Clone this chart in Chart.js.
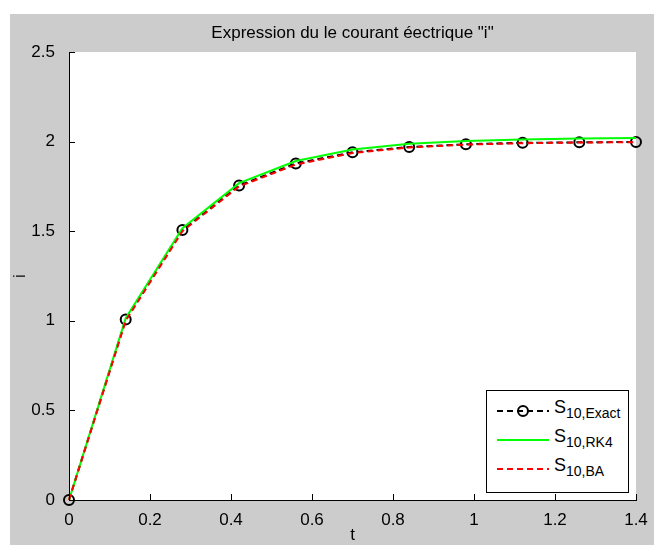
<!DOCTYPE html>
<html lang="fr">
<head>
  <meta charset="UTF-8">
  <title>Expression du courant</title>
  <script src="https://cdn.jsdelivr.net/npm/chart.js"></script>
  <style>
    body { margin: 0; background: #fff; font-family: "Liberation Sans", Arial, sans-serif; }
    #wrap { position: relative; width: 654px; height: 545px; }
    #legend { position: absolute; left: 486px; top: 390px; width: 141px; height: 101px;
              background: #fff; border: 1px solid #000; }
    .row { position: absolute; left: 0; height: 28px; width: 141px; }
    .row svg { position: absolute; left: 8px; top: 0; }
    .lbl { position: absolute; left: 67px; top: 0px; font-size: 18px; color: #000; white-space: nowrap; }
    .lbl sub { font-size: 14px; vertical-align: -5px; }
  </style>
</head>
<body>
  <div id="wrap">
    <canvas id="c" width="654" height="545"></canvas>
    <div id="legend">
      <div class="row" style="top:6px">
        <svg width="56" height="28"><line x1="2" y1="14" x2="54" y2="14" stroke="#000" stroke-width="2" stroke-dasharray="6,4"/><circle cx="28" cy="14" r="5" fill="none" stroke="#000" stroke-width="2"/></svg>
        <span class="lbl">S<sub>10,Exact</sub></span>
      </div>
      <div class="row" style="top:35px">
        <svg width="56" height="28"><line x1="2" y1="14" x2="54" y2="14" stroke="#00ff00" stroke-width="2"/></svg>
        <span class="lbl">S<sub>10,RK4</sub></span>
      </div>
      <div class="row" style="top:64px">
        <svg width="56" height="28"><line x1="2" y1="14" x2="54" y2="14" stroke="#ff0000" stroke-width="2" stroke-dasharray="6,4"/></svg>
        <span class="lbl">S<sub>10,BA</sub></span>
      </div>
    </div>
  </div>
  <script>
    // temps t et les trois solutions
    const temps = [0, 0.14, 0.28, 0.42, 0.56, 0.70, 0.84, 0.98, 1.12, 1.26, 1.40];
    const iExact = [0, 1.007, 1.507, 1.755, 1.878, 1.940, 1.970, 1.985, 1.993, 1.996, 1.998];
    const iRK4 = [0, 1.015, 1.517, 1.768, 1.892, 1.956, 1.988, 2.004, 2.012, 2.017, 2.020];
    const iBA = [0, 1.000, 1.500, 1.750, 1.872, 1.936, 1.967, 1.983, 1.991, 1.995, 1.997];
    const titre = 'Expression du le courant éectrique "i"';

    const police = "'Liberation Sans', Arial, sans-serif";

    function pts(ys) {
      return temps.map((t, k) => ({ x: t, y: ys[k] }));
    }

    // fond gris façon matlab + zone blanche + titre centré sur les axes
    const fond = {
      id: 'fond',
      beforeDraw(chart) {
        const ctx = chart.ctx, a = chart.chartArea;
        ctx.save();
        ctx.fillStyle = '#fff';
        ctx.fillRect(0, 0, chart.width, chart.height);
        ctx.fillStyle = '#cccccc';
        ctx.fillRect(10, 14, chart.width - 10, chart.height - 14);
        ctx.fillStyle = '#fff';
        ctx.fillRect(a.left, a.top, a.right - a.left, a.bottom - a.top);
        ctx.fillStyle = '#000';
        ctx.font = '17px ' + police;
        ctx.textAlign = 'center';
        ctx.textBaseline = 'middle';
        ctx.fillText(titre, (a.left + a.right) / 2, 33);
        ctx.restore();
      },
      afterDraw(chart) {
        // graduations vers l'intérieur
        const ctx = chart.ctx, a = chart.chartArea;
        const sx = chart.scales.x, sy = chart.scales.y;
        ctx.save();
        ctx.strokeStyle = '#000';
        ctx.lineWidth = 1;
        ctx.beginPath();
        sx.ticks.forEach(tk => {
          const px = Math.round(sx.getPixelForValue(tk.value)) + 0.5;
          ctx.moveTo(px, a.bottom);
          ctx.lineTo(px, a.bottom - 6);
        });
        sy.ticks.forEach(tk => {
          const py = Math.round(sy.getPixelForValue(tk.value)) + 0.5;
          ctx.moveTo(a.left, py);
          ctx.lineTo(a.left + 6, py);
        });
        ctx.stroke();
        ctx.restore();
      }
    };

    new Chart(document.getElementById('c'), {
      type: 'line',
      data: {
        datasets: [
          {
            label: 'S10,Exact', data: pts(iExact), order: 3,
            borderColor: '#000', borderWidth: 2, borderDash: [6, 4],
            pointStyle: 'circle', pointRadius: 5, pointBorderWidth: 2,
            pointBorderColor: '#000', pointBackgroundColor: 'rgba(0,0,0,0)', tension: 0
          },
          {
            label: 'S10,RK4', data: pts(iRK4), order: 2,
            borderColor: '#00ff00', borderWidth: 2, pointRadius: 0, tension: 0
          },
          {
            label: 'S10,BA', data: pts(iBA), order: 1,
            borderColor: '#ff0000', borderWidth: 2, borderDash: [6, 4], pointRadius: 0, tension: 0
          }
        ]
      },
      options: {
        responsive: false,
        animation: false,
        clip: false,
        layout: { padding: { left: 0, right: 18, top: 52, bottom: 0 } },
        plugins: {
          legend: { display: false },
          tooltip: { enabled: false },
          title: { display: false }
        },
        scales: {
          x: {
            type: 'linear', min: 0, max: 1.4,
            grid: { display: false },
            border: { display: true, color: '#000', width: 1 },
            ticks: {
              stepSize: 0.2, color: '#000', padding: 2, maxRotation: 0,
              font: { family: police, size: 17 },
              callback: v => String(Number(v.toFixed(1)))
            },
            title: { display: true, text: 't', color: '#000', font: { family: police, size: 17 }, padding: { top: 0, bottom: -1 } },
            afterFit: s => { s.height = 45; }
          },
          y: {
            min: 0, max: 2.5,
            grid: { display: false },
            border: { display: true, color: '#000', width: 1 },
            ticks: {
              stepSize: 0.5, color: '#000', padding: 6,
              font: { family: police, size: 17 },
              callback: v => String(Number(v.toFixed(1)))
            },
            title: { display: true, text: 'i', color: '#000', font: { family: police, size: 17 }, padding: { top: 10, bottom: 0 } },
            afterFit: s => { s.width = 69; }
          }
        }
      },
      plugins: [fond]
    });
  </script>
</body>
</html>
